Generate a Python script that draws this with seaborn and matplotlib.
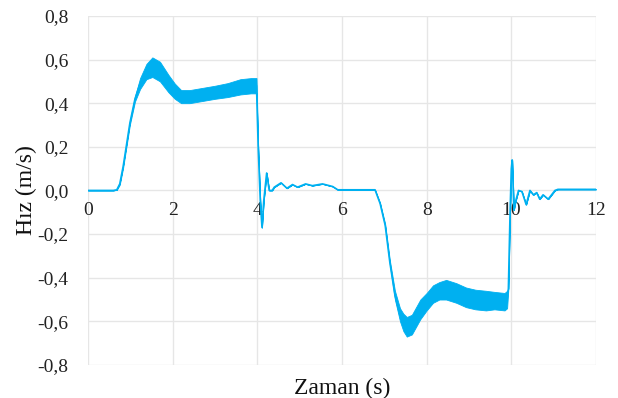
import matplotlib
matplotlib.use("Agg")
import matplotlib.pyplot as plt
import seaborn as sns
import pandas as pd

# Measured speed trace: time (s), mean speed (m/s), half-width of the vibration band (m/s)
zaman = [0.0, 0.60, 0.68, 0.75, 0.83, 0.99, 1.11, 1.23, 1.38, 1.52, 1.70, 1.90,
         2.05, 2.20, 2.40, 2.70, 3.00, 3.30, 3.60, 3.85, 3.98,
         4.02, 4.07, 4.11, 4.15, 4.22, 4.28, 4.35, 4.40, 4.56, 4.70, 4.83, 4.95,
         5.14, 5.30, 5.54, 5.78, 5.90, 6.40, 6.78,
         6.90, 7.02, 7.13, 7.25, 7.37, 7.45, 7.53, 7.65, 7.85, 8.00, 8.15,
         8.30, 8.46, 8.70, 8.93, 9.15, 9.40, 9.60, 9.84, 9.90,
         9.93, 9.97, 10.00, 10.02, 10.04, 10.06, 10.10, 10.17, 10.25, 10.35,
         10.44, 10.52, 10.60, 10.67, 10.75, 10.87, 10.95, 11.03, 11.10,
         11.50, 12.00]
hiz = [0.0, 0.0, 0.003, 0.03, 0.11, 0.31, 0.42, 0.49, 0.545, 0.565, 0.545, 0.49,
       0.455, 0.43, 0.43, 0.44, 0.45, 0.46, 0.475, 0.48, 0.48,
       0.20, -0.05, -0.17, -0.05, 0.08, 0.0, 0.0, 0.015, 0.035, 0.01, 0.027, 0.015,
       0.03, 0.022, 0.03, 0.018, 0.003, 0.003, 0.003,
       -0.06, -0.16, -0.33, -0.48, -0.57, -0.605, -0.625, -0.615, -0.545, -0.51, -0.475,
       -0.46, -0.455, -0.47, -0.49, -0.50, -0.505, -0.505, -0.51, -0.50,
       -0.45, -0.10, 0.10, 0.14, 0.03, -0.09, -0.05, 0.0, -0.005, -0.065,
       0.0, -0.02, -0.01, -0.04, -0.02, -0.04, -0.02, 0.0, 0.005,
       0.005, 0.005]
titresim = [0, 0, 0, 0.004, 0.006, 0.008, 0.012, 0.025, 0.035, 0.045, 0.045, 0.04,
            0.035, 0.03, 0.03, 0.03, 0.03, 0.032, 0.035, 0.035, 0.035,
            0, 0, 0, 0, 0, 0, 0, 0, 0, 0, 0, 0,
            0, 0, 0, 0, 0, 0, 0,
            0.003, 0.006, 0.01, 0.02, 0.03, 0.04, 0.045, 0.045, 0.045, 0.04, 0.04,
            0.04, 0.045, 0.045, 0.045, 0.045, 0.045, 0.04, 0.04, 0.04,
            0, 0, 0, 0, 0, 0, 0, 0, 0, 0,
            0, 0, 0, 0, 0, 0, 0, 0, 0,
            0, 0]

x_ticks = [0, 2, 4, 6, 8, 10, 12]
y_ticks = [-0.8, -0.6, -0.4, -0.2, 0.0, 0.2, 0.4, 0.6, 0.8]

df = pd.DataFrame({"Zaman": zaman, "Hiz": hiz, "Band": titresim})

sns.set_theme(style="whitegrid")
plt.rcParams["font.family"] = ["Liberation Serif", "DejaVu Serif"]

renk = "#00B0F0"
fig = plt.figure(figsize=(6.18, 3.98), dpi=100)
ax = fig.add_axes([0.1424, 0.083, 0.822, 0.877])

# vibration band around the mean trace
ax.fill_between(df["Zaman"], df["Hiz"] - df["Band"], df["Hiz"] + df["Band"],
                color=renk, linewidth=0.6, edgecolor=renk)
sns.lineplot(data=df, x="Zaman", y="Hiz", ax=ax, color=renk, linewidth=1.2)

ax.set_xlim(0, 12)
ax.set_ylim(-0.8, 0.8)
ax.set_xticks(x_ticks)
ax.set_yticks(y_ticks)
ax.set_xticklabels([str(v) for v in x_ticks])
ax.set_yticklabels([f"{v:.1f}".replace(".", ",") for v in y_ticks])

ax.grid(True, color="#E6E6E6", linewidth=1.0)
for s in ax.spines.values():
    s.set_visible(False)
ax.spines["bottom"].set_position(("data", 0))
ax.tick_params(axis="both", length=0, labelsize=14, colors="#222222")
ax.tick_params(axis="x", pad=8)
ax.tick_params(axis="y", pad=14)

ax.set_xlabel("Zaman (s)", fontsize=17, color="#111111")
ax.set_ylabel("Hız (m/s)", fontsize=17, color="#111111")
ax.xaxis.set_label_coords(0.5, -0.038)
ax.yaxis.set_label_coords(-0.1, 0.5)

fig.savefig("out.png", dpi=100)
